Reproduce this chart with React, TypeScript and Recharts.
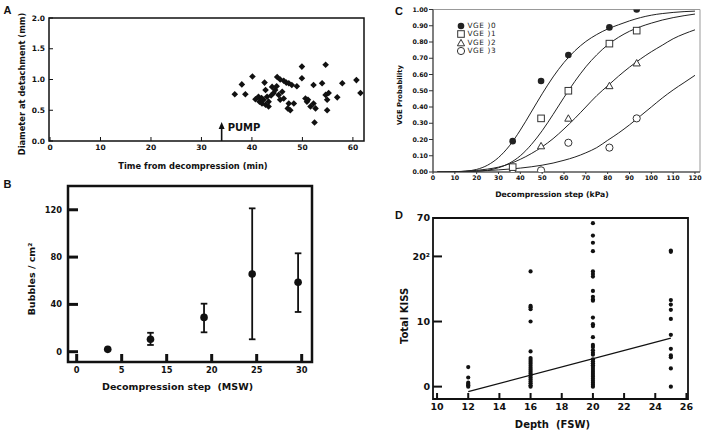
import React from 'react';
import {
  ScatterChart, ComposedChart, Scatter, Line, XAxis, YAxis,
  ReferenceArea, ReferenceLine, ReferenceDot, ErrorBar, Legend,
} from 'recharts';

const FONT = '"DejaVu Sans", Verdana, sans-serif';
const INK = '#111';

// ---- Panel A: bubble diameter at detachment vs time
const aTime = [36.6, 38.0, 38.7, 40.1, 40.7, 41.3, 41.5, 42.0, 42.3, 42.7, 43.3, 43.0, 43.3, 42.5, 42.7, 44.0, 44.3, 44.6,
  45.0, 45.6, 46.3, 46.8, 47.3, 47.9, 48.9, 45.3, 45.6, 46.0, 46.3, 47.3, 47.1, 47.6, 48.3, 49.9, 49.9, 50.6, 50.9, 51.6,
  52.2, 52.2, 52.6, 52.4, 53.9, 54.6, 54.6, 54.9, 54.9, 55.2, 56.9, 57.9, 60.7, 61.5, 51.1, 43.8, 44.9, 41.9];
const aDiam = [0.76, 0.92, 0.76, 1.05, 0.68, 0.72, 0.64, 0.61, 0.67, 0.59, 0.56, 0.72, 0.64, 0.95, 0.83, 0.88, 0.78, 0.83,
  1.04, 1.0, 0.98, 0.95, 0.94, 0.91, 0.89, 0.75, 0.67, 0.8, 0.69, 0.61, 0.53, 0.5, 0.61, 1.21, 1.02, 0.69, 0.64, 0.56,
  0.91, 0.61, 0.53, 0.3, 0.94, 1.24, 0.75, 0.67, 0.5, 0.78, 0.71, 0.94, 0.99, 0.78, 0.67, 0.74, 0.89, 0.7];
const aXTicks = [0, 10, 20, 30, 40, 50, 60];
const aYTicks = [0, 0.5, 1, 1.5, 2];
const pumpTime = 34;

// ---- Panel B: bubbles per cm2 vs decompression step
const bTickLabels = ['0', '5', '15', '20', '25', '30'];
const bStepPos = [0.69, 1.64, 2.83, 3.9, 4.92];
const bMean = [2, 10.5, 29, 65.7, 58.7];
const bLow = [2, 5.7, 16.4, 10.5, 33.6];
const bHigh = [2, 16, 40.6, 121.2, 83.2];
const bYTicks = [0, 40, 80, 120];

// ---- Panel C: VGE probability vs decompression step
const cStep = [2, 5, 10, 15, 20, 25, 30, 35, 40, 45, 50, 55, 60, 65, 70, 75, 80, 85, 90, 95, 100, 105, 110, 115, 120];
const cFit0 = [0, 0, 0.001, 0.005, 0.016, 0.042, 0.089, 0.161, 0.258, 0.369, 0.481, 0.585, 0.674, 0.746, 0.803, 0.846,
  0.88, 0.906, 0.93, 0.95, 0.965, 0.975, 0.982, 0.987, 0.99];
const cFit1 = [0, 0, 0, 0.001, 0.004, 0.011, 0.026, 0.054, 0.1, 0.168, 0.254, 0.354, 0.459, 0.558, 0.647, 0.721,
  0.782, 0.829, 0.866, 0.894, 0.916, 0.935, 0.95, 0.962, 0.972];
const cFit2 = [0, 0, 0.002, 0.005, 0.01, 0.018, 0.03, 0.05, 0.078, 0.113, 0.155, 0.205, 0.265, 0.33, 0.4, 0.47,
  0.53, 0.59, 0.645, 0.695, 0.74, 0.78, 0.82, 0.85, 0.875];
const cFit3 = [0, 0, 0.002, 0.004, 0.006, 0.009, 0.013, 0.018, 0.024, 0.032, 0.042, 0.055, 0.072, 0.092, 0.118, 0.15,
  0.195, 0.24, 0.29, 0.345, 0.4, 0.455, 0.505, 0.55, 0.595];
const cPointStep = [36.5, 49.5, 62, 80.8, 93.3];
const cVge0 = [0.19, 0.56, 0.72, 0.89, 1.0];
const cVge1 = [0.03, 0.33, 0.5, 0.79, 0.87];
const cVge2 = [0.01, 0.16, 0.33, 0.53, 0.67];
const cVge3 = [null, 0.01, 0.18, 0.15, 0.33];
const cLegendLabels = ['VGE )0', 'VGE )1', 'VGE )2', 'VGE )3'];
const cXTicks = [0, 10, 20, 30, 40, 50, 60, 70, 80, 90, 100, 110, 120];
const cYTicks = [0, 0.1, 0.2, 0.3, 0.4, 0.5, 0.6, 0.7, 0.8, 0.9, 1.0];

// ---- Panel D: total KISS vs depth
const d12 = [3.0, 1.4, 0.6, 0.4, 0.2, 0];
const d16 = [17.7, 12.4, 12.2, 11.9, 10.0, 5.4, 4.4, 4.1, 3.8, 3.5, 3.2, 2.9, 2.6, 2.3, 2.0, 1.7, 1.4, 1.1, 0.8, 0.5, 0.2, 0];
const d20 = [25.1, 23.2, 22.1, 20.8, 17.7, 17.3, 16.9, 14.7, 13.8, 13.4, 13.2, 10.6, 9.6, 9.3, 7.6, 6.4, 6.1, 5.6, 5.2,
  4.9, 4.2, 3.9, 3.6, 3.3, 3.0, 2.7, 2.4, 2.1, 1.8, 1.5, 1.2, 0.9, 0.6, 0.3, 0];
const d25 = [20.9, 20.7, 13.3, 12.6, 11.8, 10.4, 7.95, 5.8, 4.8, 4.5, 2.8, 0];
const dFitDepth = [12, 25];
const dFitKiss = [-0.77, 7.44];
const dXTicks = [10, 12, 14, 16, 18, 20, 22, 24, 26];
const dYTicks = [0, 10, 20, 25.9];
const dYLabels: Record<string, string> = { '0': '0', '10': '10', '20': '20²', '25.9': '70' };

const aData = aTime.map((t, i) => ({ x: t, y: aDiam[i] }));
const bData = bStepPos.map((p, i) => ({ x: p, y: bMean[i], err: [bMean[i] - bLow[i], bHigh[i] - bMean[i]] }));
const cCurve = cStep.map((x, i) => ({ x, f0: cFit0[i], f1: cFit1[i], f2: cFit2[i], f3: cFit3[i] }));
const cPts = (vals: (number | null)[]) =>
  cPointStep.map((x, i) => ({ x, y: vals[i] })).filter((p) => p.y !== null);
const dData = [
  ...d12.map((y) => ({ x: 12, y })),
  ...d16.map((y) => ({ x: 16, y })),
  ...d20.map((y) => ({ x: 20, y })),
  ...d25.map((y) => ({ x: 25, y })),
];
const dFit = dFitDepth.map((x, i) => ({ x, y: dFitKiss[i] }));

const Diamond = (p: any) => {
  const r = 3.3;
  return <path d={`M${p.cx},${p.cy - r}L${p.cx + r},${p.cy}L${p.cx},${p.cy + r}L${p.cx - r},${p.cy}Z`} fill={INK} />;
};
const BigDot = (p: any) => <circle cx={p.cx} cy={p.cy} r={3.8} fill={INK} />;
const SmallDot = (p: any) => <circle cx={p.cx} cy={p.cy} r={2.1} fill={INK} />;
const FilledDot = (p: any) => <circle cx={p.cx} cy={p.cy} r={3.3} fill="#222" />;
const OpenSquare = (p: any) => (
  <rect x={p.cx - 3.3} y={p.cy - 3.3} width={6.6} height={6.6} fill="#fff" stroke="#333" strokeWidth={1} />
);
const OpenTriangle = (p: any) => (
  <path d={`M${p.cx},${p.cy - 3.6}L${p.cx + 3.6},${p.cy + 2.8}L${p.cx - 3.6},${p.cy + 2.8}Z`} fill="#fff" stroke="#333" strokeWidth={1} />
);
const OpenCircle = (p: any) => <circle cx={p.cx} cy={p.cy} r={3.6} fill="#fff" stroke="#333" strokeWidth={1} />;
const NoMark = () => <g />;

const PumpArrow = (p: any) => (
  <g>
    <path d={`M${p.cx},${p.cy}L${p.cx + 3},${p.cy + 7}L${p.cx - 3},${p.cy + 7}Z`} fill={INK} />
    <text x={p.cx + 6} y={p.cy + 9.5} fontSize={10} fontWeight={700} fontFamily={FONT} fill={INK}>PUMP</text>
  </g>
);

const Caption = ({ x, y, size, rotate = false, family = FONT, children }: any) => (
  <div
    style={{
      position: 'absolute', left: x, top: y, fontSize: size, fontWeight: 700, fontFamily: family,
      whiteSpace: 'pre', lineHeight: 1, color: INK,
      transform: `translate(-50%, -50%)${rotate ? ' rotate(-90deg)' : ''}`,
    }}
  >
    {children}
  </div>
);

const tickStyle = (size: number) => ({ fontSize: size, fontWeight: 700, fill: INK, fontFamily: FONT });

const legendMarks = [FilledDot, OpenSquare, OpenTriangle, OpenCircle];
const CLegend = () => (
  <div style={{ fontFamily: FONT, fontSize: 7.3, letterSpacing: 0.6, color: '#222' }}>
    {cLegendLabels.map((label, i) => {
      const Mark = legendMarks[i];
      return (
        <div key={label} style={{ display: 'flex', alignItems: 'center', height: 8.5, lineHeight: '8.5px' }}>
          <svg width={8} height={8} style={{ overflow: 'visible' }}>
            <Mark cx={4} cy={4} />
          </svg>
          <span style={{ marginLeft: 2.5 }}>{label}</span>
        </div>
      );
    })}
  </div>
);

export default function App() {
  return (
    <div style={{ position: 'absolute', left: 0, top: 0, width: 708, height: 438, background: '#fff', overflow: 'hidden' }}>
      {/* Panel A */}
      <div style={{ position: 'absolute', left: 0, top: 0 }}>
        <ScatterChart width={372} height={180} margin={{ top: 18, right: 8, bottom: 19, left: 0 }}>
          <XAxis type="number" dataKey="x" domain={[-0.2, 62.2]} ticks={aXTicks} interval={0} allowDataOverflow
            axisLine={false} tickSize={-4} tickMargin={8} height={20} tick={tickStyle(7.5)} tickLine={{ stroke: INK }} />
          <YAxis type="number" dataKey="y" domain={[0, 2]} ticks={aYTicks} interval={0} allowDataOverflow width={49}
            axisLine={false} tickSize={-4} tickMargin={8} tick={tickStyle(7.5)} tickLine={{ stroke: INK }}
            tickFormatter={(v: number) => v.toFixed(1)} />
          <ReferenceArea x1={-0.2} x2={62.2} y1={0} y2={2} fill="none" stroke={INK} strokeWidth={1.5} />
          <ReferenceLine segment={[{ x: pumpTime, y: 0 }, { x: pumpTime, y: 0.22 }]} stroke={INK} strokeWidth={1.6} />
          <ReferenceDot x={pumpTime} y={0.31} shape={PumpArrow} />
          <Scatter data={aData} shape={Diamond} isAnimationActive={false} />
        </ScatterChart>
      </div>

      {/* Panel B */}
      <div style={{ position: 'absolute', left: 0, top: 170 }}>
        <ScatterChart width={330} height={230} margin={{ top: 16, right: 18, bottom: 18, left: 0 }}>
          <XAxis type="number" dataKey="x" domain={[-0.193, 5.229]} ticks={[0, 1, 2, 3, 4, 5]} interval={0} allowDataOverflow
            axisLine={false} tickSize={-8} tickMargin={13} height={20} tick={tickStyle(8.3)}
            tickLine={{ stroke: INK, strokeWidth: 3 }} tickFormatter={(v: number) => bTickLabels[v]} />
          <YAxis type="number" dataKey="y" domain={[-8.7, 140.1]} ticks={bYTicks} interval={0} allowDataOverflow width={68}
            axisLine={false} tickSize={-10} tickMargin={16} tick={tickStyle(8.3)}
            tickLine={{ stroke: INK, strokeWidth: 3 }} />
          <ReferenceArea x1={-0.193} x2={5.229} y1={-8.7} y2={140.1} fill="none" stroke={INK} strokeWidth={2.5} />
          <Scatter data={bData} shape={BigDot} isAnimationActive={false}>
            <ErrorBar dataKey="err" direction="y" width={3.3} stroke={INK} strokeWidth={1.8} isAnimationActive={false} />
          </Scatter>
        </ScatterChart>
      </div>

      {/* Panel C */}
      <div style={{ position: 'absolute', left: 360, top: 0 }}>
        <ComposedChart width={348} height={205} data={cCurve} margin={{ top: 9.5, right: 8, bottom: 13, left: 0 }}>
          <XAxis type="number" dataKey="x" domain={[0, 122.3]} ticks={cXTicks} interval={0} allowDataOverflow
            axisLine={{ stroke: '#333' }} tickSize={2} tickMargin={1.5} height={20} tick={tickStyle(6.3)}
            tickLine={{ stroke: '#333' }} />
          <YAxis type="number" domain={[0, 1]} ticks={cYTicks} interval={0} allowDataOverflow width={73}
            axisLine={{ stroke: '#333' }} tickSize={4} tickMargin={1} tick={tickStyle(6.3)}
            tickLine={{ stroke: '#333' }} tickFormatter={(v: number) => v.toFixed(2)} />
          <ReferenceArea x1={0} x2={122.3} y1={0} y2={1} fill="none" stroke="#999" strokeWidth={1} />
          <Line dataKey="f0" type="monotone" stroke="#222" strokeWidth={1} dot={false} isAnimationActive={false} />
          <Line dataKey="f1" type="monotone" stroke="#222" strokeWidth={1} dot={false} isAnimationActive={false} />
          <Line dataKey="f2" type="monotone" stroke="#222" strokeWidth={1} dot={false} isAnimationActive={false} />
          <Line dataKey="f3" type="monotone" stroke="#222" strokeWidth={1} dot={false} isAnimationActive={false} />
          <Scatter data={cPts(cVge3)} dataKey="y" shape={OpenCircle} isAnimationActive={false} />
          <Scatter data={cPts(cVge2)} dataKey="y" shape={OpenTriangle} isAnimationActive={false} />
          <Scatter data={cPts(cVge1)} dataKey="y" shape={OpenSquare} isAnimationActive={false} />
          <Scatter data={cPts(cVge0)} dataKey="y" shape={FilledDot} isAnimationActive={false} />
          <Legend layout="vertical" verticalAlign="middle" align="center" content={CLegend}
            wrapperStyle={{ left: 97, top: 21.5, width: 70, height: 34 }} />
        </ComposedChart>
      </div>

      {/* Panel D */}
      <div style={{ position: 'absolute', left: 360, top: 205 }}>
        <ScatterChart width={348} height={233} margin={{ top: 13, right: 20, bottom: 19, left: 0 }}>
          <XAxis type="number" dataKey="x" domain={[9.74, 26.1]} ticks={dXTicks} interval={0} allowDataOverflow
            axisLine={false} tickSize={-6} tickMargin={10.7} height={20} tick={tickStyle(9.5)}
            tickLine={{ stroke: INK, strokeWidth: 2 }} />
          <YAxis type="number" dataKey="y" domain={[-1.9, 25.9]} ticks={dYTicks} interval={0} allowDataOverflow width={73}
            axisLine={false} tickSize={-9} tickMargin={12} tick={tickStyle(9.5)}
            tickLine={{ stroke: INK, strokeWidth: 2 }} tickFormatter={(v: number) => dYLabels[String(v)]} />
          <ReferenceArea x1={9.74} x2={26.1} y1={-1.9} y2={25.9} fill="none" stroke={INK} strokeWidth={1.8} />
          <Scatter data={dData} shape={SmallDot} isAnimationActive={false} />
          <Scatter data={dFit} shape={NoMark} line={{ stroke: INK, strokeWidth: 1.3 }} isAnimationActive={false} />
        </ScatterChart>
      </div>

      {/* Panel letters and axis titles */}
      <Caption x={7.5} y={10} size={11} family='"Liberation Sans", Arial, sans-serif'>A</Caption>
      <Caption x={21.5} y={83.5} size={8.3} rotate>Diameter at detachment (mm)</Caption>
      <Caption x={193} y={166} size={8.3}>Time from decompression (min)</Caption>

      <Caption x={7.5} y={184} size={11} family='"Liberation Sans", Arial, sans-serif'>B</Caption>
      <Caption x={32} y={279} size={9.5} rotate>Bubbles / cm²</Caption>
      <Caption x={177.5} y={387} size={9.5}>{'Decompression step  (MSW)'}</Caption>

      <Caption x={399} y={11} size={11} family='"Liberation Sans", Arial, sans-serif'>C</Caption>
      <Caption x={400} y={95} size={6.8} rotate>VGE Probability</Caption>
      <Caption x={552} y={194.5} size={7.7}>Decompression step (kPa)</Caption>

      <Caption x={399} y={215} size={11} family='"Liberation Sans", Arial, sans-serif'>D</Caption>
      <Caption x={405} y={316} size={10} rotate>Total KISS</Caption>
      <Caption x={552.5} y={425} size={10}>{'Depth  (FSW)'}</Caption>
    </div>
  );
}
